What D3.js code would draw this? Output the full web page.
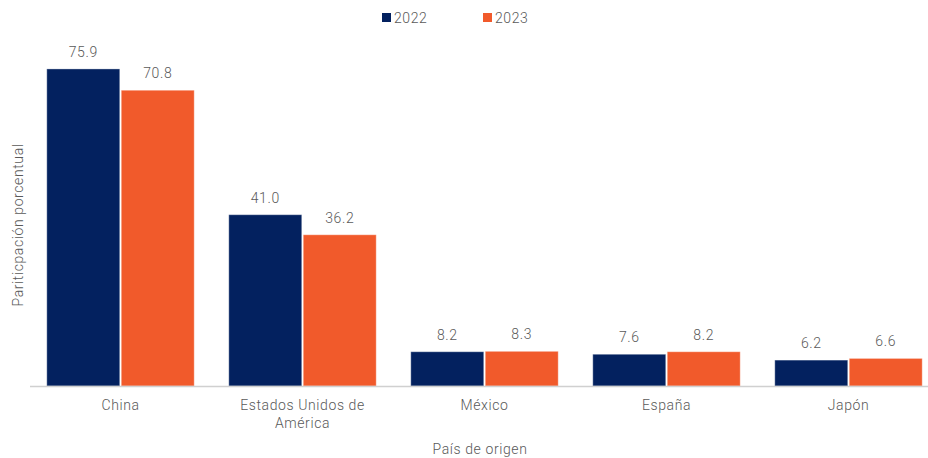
<!DOCTYPE html>
<html>
<head>
<meta charset="utf-8">
<script src="https://cdn.jsdelivr.net/npm/d3@7"></script>
<style>
  body { margin: 0; background: #fff; }
  text { font-family: Roboto, "Liberation Sans", sans-serif; font-weight: 300; fill: #595959; letter-spacing: 0.6px; }
</style>
</head>
<body>
<script>
const WIDTH = 928
const HEIGHT = 458

// datos
const paises = ["China", "Estados Unidos de América", "México", "España", "Japón"]
const anios = ["2022", "2023"]
const valores2022 = [75.9, 41.0, 8.2, 7.6, 6.2]
const valores2023 = [70.8, 36.2, 8.3, 8.2, 6.6]
const colores = ["#03215f", "#f15a2b"]

const tabla = paises.map((p, i) => ({ pais: p, valores: [valores2022[i], valores2023[i]] }))

const svg = d3.select("body")
    .append("svg")
    .attr("width", WIDTH)
    .attr("height", HEIGHT)

const base = 386

// escalas
const x0 = d3.scaleBand()
    .domain(paises)
    .range([29.5, 939.5])
    .paddingInner(0.19)
    .paddingOuter(0.095)

const x1 = d3.scaleBand()
    .domain(anios)
    .range([0, x0.bandwidth()])
    .paddingInner(0.02)

const y = d3.scaleLinear()
    .domain([0, 80])
    .range([base, 51.8])

// barras
const grupos = svg.append("g")
    .selectAll("g")
    .data(tabla)
    .enter()
    .append("g")
    .attr("transform", d => `translate(${x0(d.pais)},0)`)

grupos.selectAll("rect")
    .data(d => d.valores.map((v, i) => ({ anio: anios[i], v: v, i: i })))
    .enter()
    .append("rect")
    .attr("x", d => x1(d.anio))
    .attr("y", d => y(d.v))
    .attr("width", x1.bandwidth())
    .attr("height", d => base - y(d.v))
    .attr("fill", d => colores[d.i])
    .attr("stroke", "#ffffff")
    .attr("stroke-opacity", 0.35)
    .attr("stroke-width", 1)

// etiquetas de valores
grupos.selectAll("text")
    .data(d => d.valores.map((v, i) => ({ anio: anios[i], v: v })))
    .enter()
    .append("text")
    .attr("x", d => x1(d.anio) + x1.bandwidth() / 2)
    .attr("y", d => y(d.v) - 12)
    .attr("text-anchor", "middle")
    .attr("font-size", 14)
    .text(d => d.v.toFixed(1))

// eje x
const ejeX = svg.append("g")
    .attr("transform", `translate(0,${base})`)
    .call(d3.axisBottom(x0).tickSize(0).tickPadding(0).tickFormat(""))

ejeX.select(".domain").remove()
ejeX.append("line")
    .attr("x1", 30).attr("x2", WIDTH)
    .attr("y1", 0.5).attr("y2", 0.5)
    .attr("stroke", "#d0d0d0")
    .attr("stroke-width", 1.5)

// nombres de paises (dos lineas para EE.UU.)
const lineas = {
    "Estados Unidos de América": ["Estados Unidos de", "América"]
}
ejeX.selectAll(".tick").each(function(d) {
    const t = d3.select(this).append("text")
        .attr("text-anchor", "middle")
        .attr("font-size", 14)
    const partes = lineas[d] || [d]
    partes.forEach((p, i) => {
        t.append("tspan").attr("x", 0).attr("y", 24 + i * 18).text(p)
    })
})

// titulos de ejes
svg.append("text")
    .attr("x", 480)
    .attr("y", 454)
    .attr("text-anchor", "middle")
    .attr("font-size", 14)
    .text("País de origen")

svg.append("text")
    .attr("transform", "translate(23,225) rotate(-90)")
    .attr("text-anchor", "middle")
    .attr("font-size", 14)
    .text("Pariticpación porcentual")

// leyenda
const leyenda = svg.append("g")
    .selectAll("g")
    .data(anios)
    .enter()
    .append("g")
    .attr("transform", (d, i) => `translate(${382 + i * 101},13)`)

leyenda.append("rect")
    .attr("width", 9)
    .attr("height", 9)
    .attr("fill", (d, i) => colores[i])

leyenda.append("text")
    .attr("x", 12)
    .attr("y", 10)
    .attr("font-size", 14)
    .text(d => d)
</script>
</body>
</html>
